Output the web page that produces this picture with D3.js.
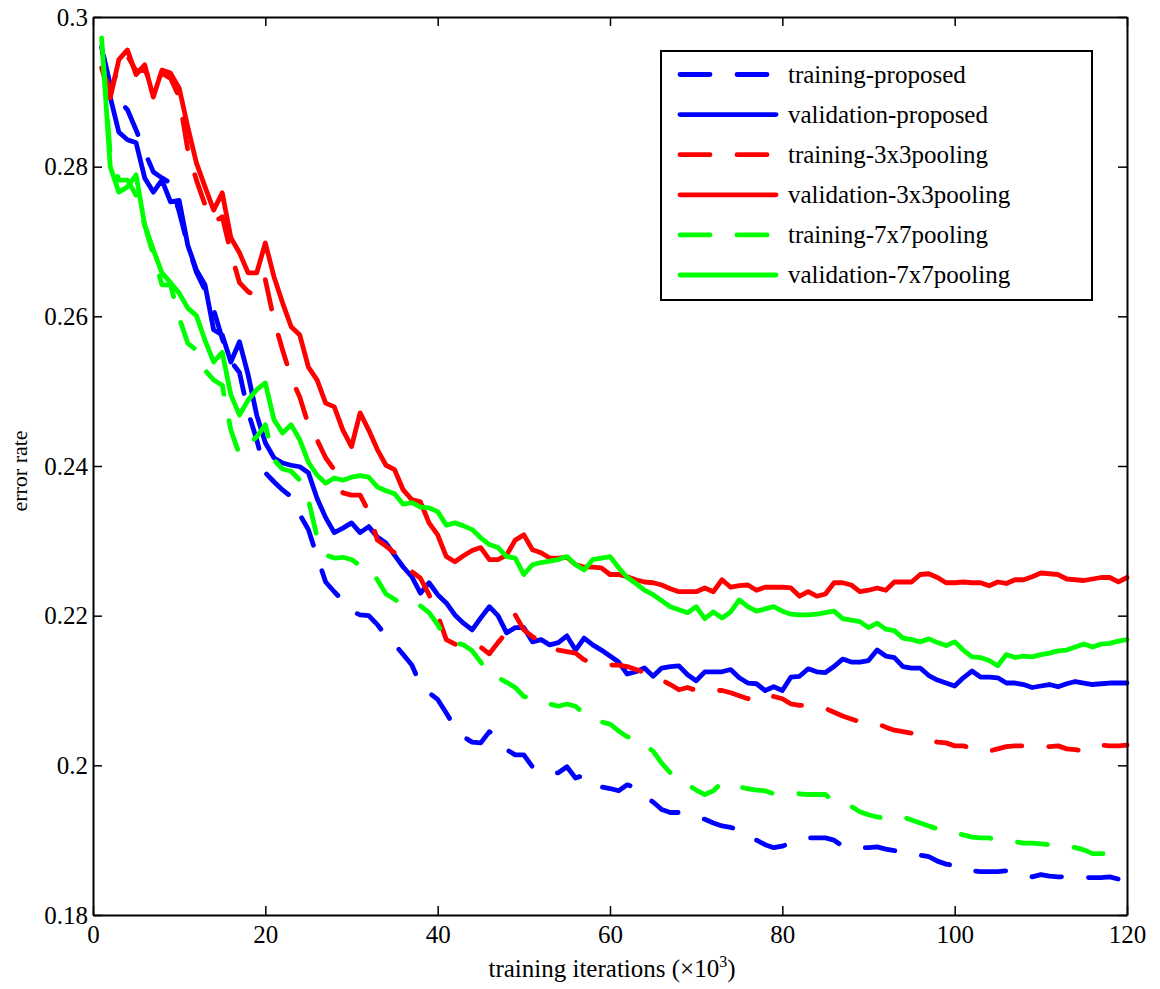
<!DOCTYPE html>
<html>
<head>
<meta charset="utf-8">
<script src="https://cdn.jsdelivr.net/npm/d3@7"></script>
<style>
  body { margin: 0; background: #fff; }
  text { font-family: "Liberation Serif", "Times New Roman", Times, serif; fill: #000; }
</style>
</head>
<body>
<svg id="chart" width="1160" height="989"></svg>
<script>
// Training iterations in thousands (one sample per 1k iterations)
const iterations = d3.range(1, 121);

const trainingProposed = [
  0.2960,0.2909,0.2889,0.2876,0.2849,0.2820,0.2793,0.2785,0.2778,0.2740,
  0.2695,0.2659,0.2635,0.2609,0.2570,0.2540,0.2525,0.2472,0.2435,0.2391,
  0.2379,0.2368,0.2359,0.2335,0.2315,0.2279,0.2245,0.2232,0.2220,0.2206,
  0.2201,0.2200,0.2188,0.2173,0.2162,0.2148,0.2134,0.2108,0.2097,0.2088,
  0.2070,0.2051,0.2038,0.2031,0.2030,0.2045,0.2037,0.2021,0.2014,0.2014,
  0.1998,0.1993,0.1989,0.1990,0.1998,0.1983,0.1987,0.1981,0.1971,0.1969,
  0.1966,0.1974,0.1970,0.1958,0.1951,0.1941,0.1937,0.1937,0.1934,0.1930,
  0.1928,0.1923,0.1919,0.1917,0.1914,0.1907,0.1900,0.1894,0.1890,0.1892,
  0.1896,0.1900,0.1903,0.1903,0.1903,0.1900,0.1892,0.1890,0.1890,0.1890,
  0.1891,0.1888,0.1886,0.1884,0.1883,0.1880,0.1878,0.1872,0.1868,0.1866,
  0.1862,0.1859,0.1858,0.1858,0.1858,0.1859,0.1856,0.1854,0.1851,0.1854,
  0.1852,0.1851,0.1851,0.1851,0.1850,0.1850,0.1850,0.1851,0.1848,0.1850
];

const validationProposed = [
  0.2960,0.2893,0.2846,0.2836,0.2832,0.2785,0.2766,0.2782,0.2753,0.2755,
  0.2695,0.2662,0.2642,0.2582,0.2575,0.2539,0.2566,0.2522,0.2468,0.2431,
  0.2411,0.2404,0.2401,0.2399,0.2391,0.2357,0.2331,0.2311,0.2317,0.2324,
  0.2311,0.2319,0.2305,0.2297,0.2281,0.2265,0.2252,0.2230,0.2244,0.2228,
  0.2217,0.2201,0.2190,0.2181,0.2197,0.2212,0.2200,0.2177,0.2184,0.2184,
  0.2165,0.2168,0.2161,0.2164,0.2173,0.2154,0.2170,0.2161,0.2154,0.2146,
  0.2138,0.2122,0.2125,0.2130,0.2119,0.2130,0.2132,0.2133,0.2121,0.2113,
  0.2125,0.2125,0.2125,0.2128,0.2117,0.2110,0.2109,0.2100,0.2105,0.2100,
  0.2118,0.2119,0.2129,0.2125,0.2124,0.2132,0.2142,0.2138,0.2138,0.2140,
  0.2154,0.2146,0.2144,0.2132,0.2130,0.2130,0.2120,0.2114,0.2110,0.2106,
  0.2117,0.2126,0.2118,0.2118,0.2117,0.2110,0.2110,0.2108,0.2104,0.2106,
  0.2108,0.2105,0.2109,0.2112,0.2110,0.2108,0.2109,0.2110,0.2110,0.2110
];

const training3x3 = [
  0.2935,0.2900,0.2935,0.2948,0.2928,0.2930,0.2905,0.2925,0.2918,0.2893,
  0.2822,0.2782,0.2749,0.2726,0.2733,0.2685,0.2645,0.2633,0.2626,0.2649,
  0.2595,0.2555,0.2518,0.2492,0.2455,0.2435,0.2411,0.2395,0.2364,0.2361,
  0.2361,0.2339,0.2301,0.2293,0.2284,0.2272,0.2259,0.2250,0.2228,0.2201,
  0.2168,0.2162,0.2158,0.2158,0.2158,0.2149,0.2164,0.2178,0.2201,0.2181,
  0.2172,0.2165,0.2161,0.2154,0.2152,0.2150,0.2141,0.2137,0.2136,0.2134,
  0.2134,0.2132,0.2128,0.2124,0.2120,0.2114,0.2108,0.2101,0.2104,0.2100,
  0.2098,0.2100,0.2100,0.2097,0.2093,0.2089,0.2096,0.2094,0.2092,0.2089,
  0.2082,0.2080,0.2080,0.2078,0.2076,0.2071,0.2066,0.2062,0.2058,0.2057,
  0.2056,0.2051,0.2047,0.2045,0.2043,0.2039,0.2034,0.2031,0.2030,0.2026,
  0.2026,0.2023,0.2022,0.2019,0.2022,0.2025,0.2026,0.2026,0.2026,0.2026,
  0.2025,0.2026,0.2022,0.2021,0.2019,0.2023,0.2027,0.2026,0.2026,0.2027
];

const validation3x3 = [
  0.2932,0.2892,0.2943,0.2956,0.2923,0.2936,0.2893,0.2929,0.2925,0.2905,
  0.2853,0.2805,0.2773,0.2742,0.2765,0.2705,0.2685,0.2658,0.2658,0.2698,
  0.2653,0.2618,0.2586,0.2575,0.2532,0.2515,0.2484,0.2479,0.2448,0.2426,
  0.2471,0.2448,0.2422,0.2401,0.2395,0.2368,0.2355,0.2352,0.2324,0.2308,
  0.2279,0.2272,0.2280,0.2287,0.2291,0.2275,0.2275,0.2281,0.2301,0.2308,
  0.2288,0.2284,0.2277,0.2277,0.2278,0.2268,0.2265,0.2265,0.2264,0.2255,
  0.2255,0.2252,0.2248,0.2245,0.2244,0.2241,0.2236,0.2232,0.2232,0.2232,
  0.2237,0.2232,0.2248,0.2238,0.2240,0.2241,0.2234,0.2238,0.2238,0.2238,
  0.2237,0.2226,0.2232,0.2226,0.2229,0.2244,0.2244,0.2241,0.2232,0.2234,
  0.2237,0.2234,0.2245,0.2245,0.2245,0.2255,0.2256,0.2251,0.2244,0.2244,
  0.2245,0.2244,0.2244,0.2240,0.2245,0.2243,0.2248,0.2248,0.2252,0.2257,
  0.2256,0.2255,0.2249,0.2248,0.2247,0.2249,0.2251,0.2251,0.2245,0.2251
];

const training7x7 = [
  0.2972,0.2816,0.2782,0.2782,0.2762,0.2722,0.2682,0.2642,0.2642,0.2598,
  0.2564,0.2555,0.2528,0.2515,0.2508,0.2448,0.2415,0.2428,0.2439,0.2455,
  0.2408,0.2396,0.2393,0.2381,0.2355,0.2305,0.2281,0.2277,0.2278,0.2275,
  0.2267,0.2265,0.2248,0.2229,0.2222,0.2214,0.2218,0.2213,0.2204,0.2188,
  0.2168,0.2164,0.2161,0.2153,0.2138,0.2121,0.2117,0.2111,0.2104,0.2092,
  0.2090,0.2088,0.2082,0.2079,0.2082,0.2079,0.2069,0.2064,0.2058,0.2055,
  0.2046,0.2038,0.2037,0.2027,0.2019,0.2003,0.1990,0.1979,0.1974,0.1967,
  0.1961,0.1966,0.1977,0.1974,0.1971,0.1969,0.1967,0.1966,0.1962,0.1962,
  0.1962,0.1962,0.1961,0.1961,0.1961,0.1951,0.1947,0.1945,0.1938,0.1934,
  0.1931,0.1929,0.1930,0.1931,0.1927,0.1923,0.1919,0.1915,0.1912,0.1910,
  0.1907,0.1904,0.1903,0.1903,0.1900,0.1899,0.1898,0.1896,0.1896,0.1895,
  0.1894,0.1892,0.1892,0.1890,0.1887,0.1882,0.1882,0.1882,0.1882,0.1882
];

const validation7x7 = [
  0.2972,0.2800,0.2766,0.2773,0.2789,0.2722,0.2689,0.2658,0.2645,0.2631,
  0.2611,0.2601,0.2568,0.2539,0.2552,0.2495,0.2468,0.2488,0.2502,0.2511,
  0.2462,0.2444,0.2455,0.2435,0.2405,0.2388,0.2377,0.2384,0.2381,0.2385,
  0.2387,0.2385,0.2372,0.2367,0.2363,0.2349,0.2351,0.2345,0.2344,0.2339,
  0.2321,0.2324,0.2320,0.2315,0.2304,0.2295,0.2291,0.2279,0.2277,0.2255,
  0.2268,0.2271,0.2273,0.2275,0.2279,0.2268,0.2261,0.2275,0.2277,0.2279,
  0.2264,0.2251,0.2243,0.2234,0.2228,0.2220,0.2212,0.2208,0.2204,0.2212,
  0.2196,0.2205,0.2197,0.2205,0.2221,0.2212,0.2206,0.2209,0.2212,0.2206,
  0.2202,0.2201,0.2201,0.2202,0.2204,0.2206,0.2196,0.2194,0.2192,0.2184,
  0.2190,0.2182,0.2180,0.2170,0.2168,0.2165,0.2169,0.2164,0.2160,0.2165,
  0.2154,0.2145,0.2144,0.2140,0.2133,0.2148,0.2144,0.2146,0.2145,0.2148,
  0.2150,0.2153,0.2154,0.2158,0.2162,0.2158,0.2162,0.2163,0.2166,0.2168
];

const seriesLabels = [
  "training-proposed", "validation-proposed",
  "training-3x3pooling", "validation-3x3pooling",
  "training-7x7pooling", "validation-7x7pooling"
];
const seriesValues = [
  trainingProposed, validationProposed,
  training3x3, validation3x3,
  training7x7, validation7x7
];
const seriesColors = ["#0000ff", "#0000ff", "#ff0000", "#ff0000", "#00ff00", "#00ff00"];
const seriesDashed = [true, false, true, false, true, false];
// where the dash cycle sits at the right-hand end of each dashed curve
const dashEndPhase = [39, 0, 23, 0, 54, 0];

const xTicks = [0, 20, 40, 60, 80, 100, 120];
const yTicks = [0.18, 0.2, 0.22, 0.24, 0.26, 0.28, 0.3];
const xTitle = "training iterations (\u00d710";
const xTitleSup = "3";
const yTitle = "error rate";

// ---- layout ----
const svg = d3.select("#chart");
const margin = { left: 93, top: 17, right: 33, bottom: 74 };
const W = 1160, H = 989;
const plotW = W - margin.left - margin.right;
const plotH = H - margin.top - margin.bottom;

const x = d3.scaleLinear().domain([0, 120]).range([0, plotW]);
const y = d3.scaleLinear().domain([0.18, 0.3]).range([plotH, 0]);

const g = svg.append("g").attr("transform", `translate(${margin.left},${margin.top})`);

const dashOn = 30, dashOff = 27;
const dash = `${dashOn},${dashOff}`;
const period = dashOn + dashOff;
const lineW = 4.8;
const fontSize = 25;

// ---- curves ----
const line = d3.line()
  .x((d, i) => x(iterations[i]))
  .y(d => y(d));

svg.append("defs").append("clipPath").attr("id", "plotClip")
  .append("rect").attr("x", -3).attr("y", -3).attr("width", plotW + 6).attr("height", plotH + 6);

const curves = g.append("g").attr("clip-path", "url(#plotClip)");
seriesValues.forEach((vals, s) => {
  const p = curves.append("path")
    .datum(vals)
    .attr("d", line)
    .attr("fill", "none")
    .attr("stroke", seriesColors[s])
    .attr("stroke-width", lineW)
    .attr("stroke-linecap", "round")
    .attr("stroke-linejoin", "round");
  if (seriesDashed[s]) {
    const L = p.node().getTotalLength();
    const off = ((dashEndPhase[s] - L) % period + period) % period;
    p.attr("stroke-dasharray", dash).attr("stroke-dashoffset", off);
  }
});

// ---- axes (ticks point inward on all four sides) ----
const tickLen = 9;

const axB = g.append("g").attr("transform", `translate(0,${plotH})`)
  .call(d3.axisBottom(x).tickValues(xTicks).tickSizeInner(-tickLen).tickSizeOuter(0)
    .tickPadding(10).tickFormat(d => String(d)));
const axT = g.append("g")
  .call(d3.axisTop(x).tickValues(xTicks).tickSizeInner(-tickLen).tickSizeOuter(0).tickFormat(""));
const axL = g.append("g")
  .call(d3.axisLeft(y).tickValues(yTicks).tickSizeInner(-tickLen).tickSizeOuter(0)
    .tickPadding(5).tickFormat(d => String(d)));
const axR = g.append("g").attr("transform", `translate(${plotW},0)`)
  .call(d3.axisRight(y).tickValues(yTicks).tickSizeInner(-tickLen).tickSizeOuter(0).tickFormat(""));

[axB, axT, axL, axR].forEach(a => {
  a.attr("font-family", '"Liberation Serif", "Times New Roman", serif');
  a.select(".domain").attr("stroke", "#000").attr("stroke-width", 2);
  a.selectAll(".tick line").attr("stroke", "#000").attr("stroke-width", 1.5);
  a.selectAll(".tick text").attr("font-size", fontSize).attr("fill", "#000");
});

// ---- axis titles ----
const xt = svg.append("text")
  .attr("x", margin.left + plotW / 2 + 2)
  .attr("y", 977)
  .attr("text-anchor", "middle")
  .attr("font-size", fontSize);
xt.append("tspan").text(xTitle);
xt.append("tspan").attr("font-size", 16).attr("dy", -10).text(xTitleSup);
xt.append("tspan").attr("dy", 10).text(")");

svg.append("text")
  .attr("transform", `translate(27,${margin.top + plotH / 2 + 5}) rotate(-90)`)
  .attr("text-anchor", "middle")
  .attr("font-size", 22)
  .text(yTitle);

// ---- legend ----
const legend = svg.append("g");
legend.append("rect")
  .attr("x", 661).attr("y", 51).attr("width", 431).attr("height", 249)
  .attr("fill", "#fff").attr("stroke", "#000").attr("stroke-width", 2);

const rowY = d3.scaleLinear().domain([0, 5]).range([74.5, 275]);
seriesLabels.forEach((label, s) => {
  const ry = rowY(s);
  legend.append("line")
    .attr("x1", 680).attr("x2", 776).attr("y1", ry).attr("y2", ry)
    .attr("stroke", seriesColors[s])
    .attr("stroke-width", lineW)
    .attr("stroke-linecap", "round")
    .attr("stroke-dasharray", seriesDashed[s] ? dash : null);
  legend.append("text")
    .attr("x", 788).attr("y", ry + 8)
    .attr("font-size", fontSize)
    .text(label);
});
</script>
</body>
</html>
